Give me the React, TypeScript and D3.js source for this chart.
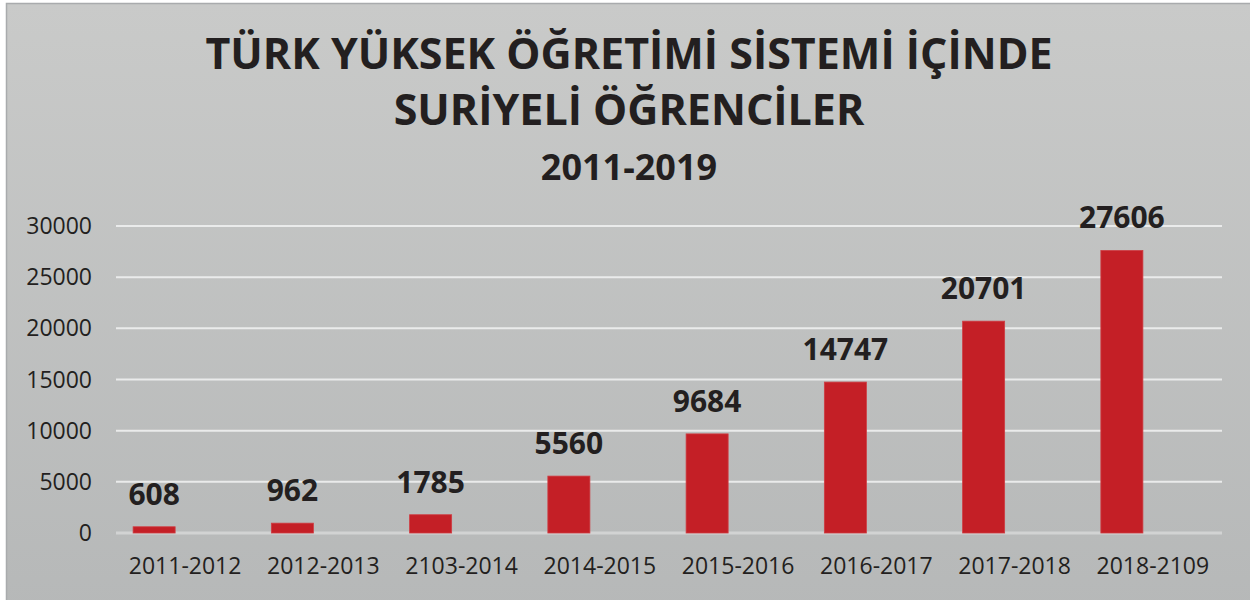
import React from "react";
import * as d3 from "d3";

const categories = [
  "2011-2012",
  "2012-2013",
  "2103-2014",
  "2014-2015",
  "2015-2016",
  "2016-2017",
  "2017-2018",
  "2018-2109",
];
const values = [608, 962, 1785, 5560, 9684, 14747, 20701, 27606];
const yTicks = [0, 5000, 10000, 15000, 20000, 25000, 30000];
const titleLines = ["TÜRK YÜKSEK ÖĞRETİMİ SİSTEMİ İÇİNDE", "SURİYELİ ÖĞRENCİLER"];
const subtitle = "2011-2019";

const W = 1250;
const H = 600;
const FONT = "'Open Sans', 'Noto Sans', sans-serif";
const TEXT = "#231f20";

export default function App() {
  const x = d3
    .scaleBand<string>()
    .domain(categories)
    .range([116, 1222])
    .paddingInner(0.696)
    .paddingOuter(0.348);
  const y = d3.scaleLinear().domain([0, 30000]).range([533, 226]);
  const barShift = -31;

  return (
    <svg
      width={W}
      height={H}
      style={{ position: "absolute", left: 0, top: 0, display: "block" }}
      fontFamily={FONT}
    >
      <defs>
        <linearGradient id="bg" x1="0" y1="0" x2="0" y2="1">
          <stop offset="0" stopColor="#c9cac9" />
          <stop offset="1" stopColor="#b6b8b8" />
        </linearGradient>
      </defs>
      <rect x={0} y={0} width={W} height={H} fill="#ffffff" />
      <rect x={6.5} y={3.5} width={W + 10} height={H + 10} fill="url(#bg)" stroke="#a9abad" strokeWidth={1.5} />

      {titleLines.map((t, i) => (
        <text
          key={t}
          x={629}
          y={[69, 124.5][i]}
          textAnchor="middle"
          fontSize={43}
          fontWeight={700}
          fill={TEXT}
        >
          {t}
        </text>
      ))}
      <text x={629} y={180} textAnchor="middle" fontSize={36} fontWeight={700} fill={TEXT}>
        {subtitle}
      </text>

      {yTicks.map((t) => (
        <g key={t}>
          <line
            x1={116}
            x2={1222}
            y1={y(t)}
            y2={y(t)}
            stroke={t === 0 ? "#d2d3d3" : "#eaebeb"}
            strokeWidth={t === 0 ? 3 : 2}
          />
          <text x={92} y={y(t)} dy="0.35em" textAnchor="end" fontSize={23} fill={TEXT}>
            {t}
          </text>
        </g>
      ))}

      {categories.map((c, i) => {
        const bx = (x(c) ?? 0) + barShift;
        const bw = x.bandwidth();
        const top = y(values[i]);
        return (
          <g key={c}>
            <rect x={bx} y={top} width={bw} height={y(0) - top} fill="#c41f26" stroke="#cf3c42" strokeWidth={0.8} />
            <text x={bx + bw / 2} y={top - 22} textAnchor="middle" fontSize={30} fontWeight={700} fill={TEXT}>
              {values[i]}
            </text>
            <text x={(x(c) ?? 0) + bw / 2} y={574} textAnchor="middle" fontSize={23} fill={TEXT}>
              {c}
            </text>
          </g>
        );
      })}
    </svg>
  );
}
